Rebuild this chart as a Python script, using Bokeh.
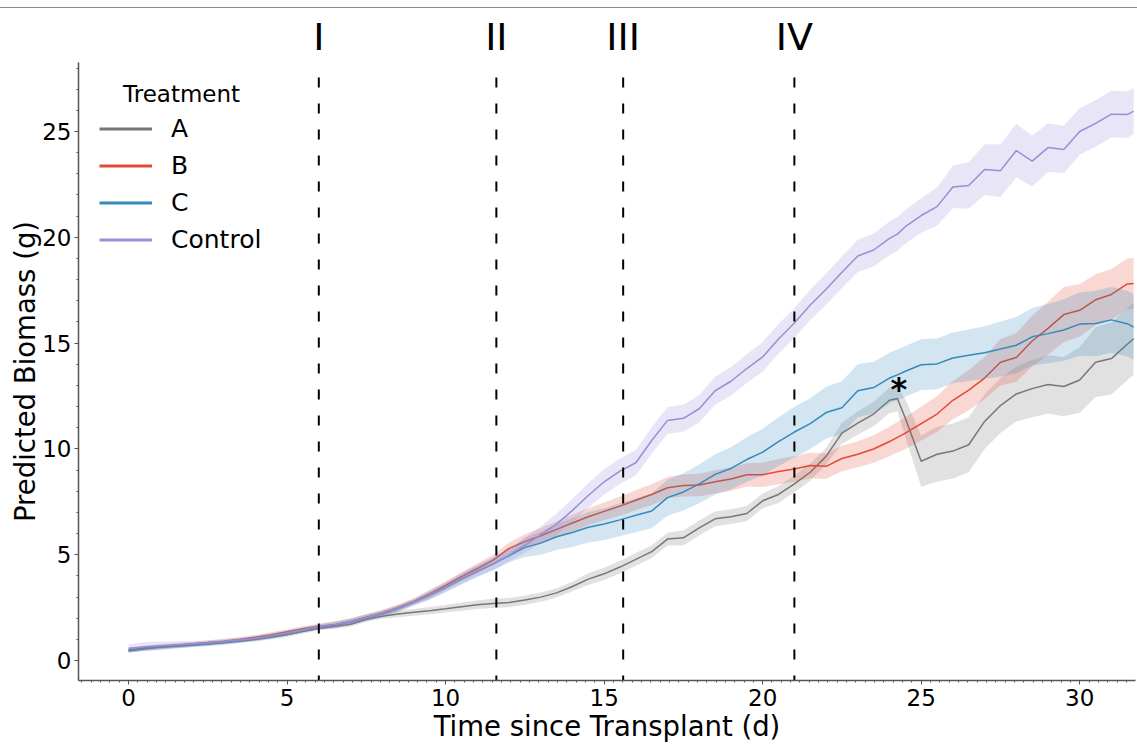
import numpy as np
from bokeh.plotting import figure
from bokeh.models import (Range1d, SingleIntervalTicker, FixedTicker, LinearAxis,
                          Label, Legend, LegendItem)
from bokeh.embed import file_html
from bokeh.resources import INLINE

# ---------------- data ----------------
t = [0, 0.5, 1, 1.5, 2, 2.5, 3, 3.5, 4, 4.5, 5, 5.5, 6, 6.5, 7, 7.5, 8, 8.5, 9, 9.5,
     10, 10.5, 11, 11.5, 12, 12.5, 13, 13.5, 14, 14.5, 15, 15.5, 16, 16.5, 17, 17.5,
     18, 18.5, 19, 19.5, 20, 20.5, 21, 21.5, 22, 22.5, 23, 23.5, 24, 24.25, 24.5, 25,
     25.5, 26, 26.5, 27, 27.5, 28, 28.5, 29, 29.5, 30, 30.5, 31, 31.5, 31.7]

a_mean = [0.47, 0.56, 0.63, 0.68, 0.73, 0.78, 0.84, 0.92, 1.0, 1.1, 1.22, 1.38, 1.52, 1.62,
          1.72, 1.95, 2.1, 2.2, 2.28, 2.36, 2.45, 2.55, 2.64, 2.7, 2.74, 2.86, 3.0, 3.2,
          3.5, 3.85, 4.1, 4.42, 4.78, 5.15, 5.74, 5.8, 6.27, 6.7, 6.8, 6.95, 7.55, 7.85,
          8.35, 8.9, 9.65, 10.75, 11.22, 11.65, 12.3, 12.38, 11.45, 9.42, 9.75, 9.9, 10.2,
          11.3, 12.05, 12.6, 12.85, 13.05, 12.95, 13.26, 14.1, 14.27, 14.95, 15.21]
a_err = [0.1, 0.1, 0.1, 0.1, 0.1, 0.1, 0.1, 0.1, 0.1, 0.1, 0.1, 0.1, 0.1, 0.12,
         0.12, 0.12, 0.12, 0.15, 0.16, 0.17, 0.18, 0.19, 0.2, 0.22, 0.22, 0.22, 0.22, 0.22,
         0.22, 0.28, 0.29, 0.3, 0.3, 0.3, 0.3, 0.35, 0.35, 0.35, 0.35, 0.35, 0.35, 0.4,
         0.4, 0.4, 0.4, 0.5, 0.55, 0.58, 0.6, 0.6, 0.9, 1.2, 1.3, 1.3, 1.3,
         1.3, 1.3, 1.3, 1.35, 1.38, 1.4, 1.55, 1.65, 1.7, 1.7, 1.7]

b_mean = [0.5, 0.6, 0.67, 0.73, 0.79, 0.85, 0.92, 1.0, 1.1, 1.22, 1.36, 1.5, 1.62, 1.7,
          1.85, 2.05, 2.25, 2.5, 2.8, 3.15, 3.55, 3.97, 4.35, 4.75, 5.3, 5.62, 5.9, 6.2,
          6.5, 6.8, 7.05, 7.3, 7.58, 7.85, 8.17, 8.27, 8.3, 8.45, 8.58, 8.78, 8.78, 8.93,
          9.05, 9.22, 9.18, 9.55, 9.75, 10.0, 10.35, 10.55, 10.75, 11.2, 11.65, 12.3, 12.78,
          13.35, 14.1, 14.32, 15.1, 15.7, 16.35, 16.55, 17.05, 17.3, 17.8, 17.82]
b_err = [0.1, 0.1, 0.1, 0.1, 0.1, 0.1, 0.1, 0.11, 0.11, 0.12, 0.12, 0.12, 0.12, 0.15,
         0.15, 0.15, 0.15, 0.15, 0.15, 0.2, 0.2, 0.22, 0.24, 0.25, 0.28, 0.35, 0.37, 0.38,
         0.4, 0.4, 0.42, 0.45, 0.47, 0.5, 0.5, 0.52, 0.53, 0.55, 0.55, 0.55, 0.58, 0.6,
         0.6, 0.6, 0.6, 0.6, 0.62, 0.65, 0.7, 0.72, 0.75, 0.8, 0.85, 0.9, 0.95,
         1.0, 1.1, 1.15, 1.2, 1.25, 1.3, 1.25, 1.2, 1.2, 1.2, 1.2]

c_mean = [0.48, 0.57, 0.64, 0.7, 0.75, 0.8, 0.87, 0.95, 1.04, 1.15, 1.3, 1.45, 1.58, 1.68,
          1.82, 2.02, 2.2, 2.45, 2.75, 3.08, 3.45, 3.85, 4.22, 4.57, 4.95, 5.35, 5.55, 5.85,
          6.05, 6.3, 6.45, 6.65, 6.87, 7.07, 7.7, 7.97, 8.35, 8.8, 9.08, 9.5, 9.85, 10.35,
          10.8, 11.2, 11.72, 11.95, 12.75, 12.9, 13.35, 13.5, 13.67, 13.98, 14.02, 14.3, 14.43,
          14.55, 14.72, 14.9, 15.3, 15.45, 15.62, 15.9, 15.93, 16.1, 15.92, 15.76]
c_err = [0.1, 0.1, 0.1, 0.1, 0.1, 0.1, 0.1, 0.1, 0.1, 0.1, 0.1, 0.1, 0.1, 0.15,
         0.15, 0.15, 0.15, 0.15, 0.15, 0.2, 0.22, 0.25, 0.27, 0.3, 0.3, 0.45, 0.55, 0.62,
         0.68, 0.72, 0.75, 0.78, 0.8, 0.82, 0.85, 0.88, 0.92, 0.95, 1.0, 1.05, 1.1, 1.15,
         1.2, 1.2, 1.22, 1.25, 1.25, 1.22, 1.2, 1.2, 1.2, 1.2, 1.2, 1.2, 1.22,
         1.25, 1.3, 1.33, 1.36, 1.4, 1.45, 1.5, 1.55, 1.55, 1.55, 1.55]

d_mean = [0.58, 0.66, 0.7, 0.74, 0.79, 0.84, 0.9, 0.97, 1.06, 1.17, 1.32, 1.46, 1.6, 1.7,
          1.84, 2.04, 2.22, 2.47, 2.77, 3.1, 3.47, 3.87, 4.24, 4.58, 4.98, 5.45, 5.95, 6.45,
          7.1, 7.8, 8.45, 8.95, 9.35, 10.4, 11.35, 11.45, 11.9, 12.75, 13.2, 13.8, 14.35, 15.2,
          15.95, 16.8, 17.55, 18.35, 19.12, 19.4, 19.95, 20.15, 20.5, 21.03, 21.45, 22.38, 22.45,
          23.2, 23.15, 24.1, 23.6, 24.24, 24.15, 25.0, 25.38, 25.82, 25.8, 25.96]
d_err = [0.18, 0.22, 0.2, 0.17, 0.13, 0.12, 0.12, 0.12, 0.12, 0.12, 0.12, 0.12, 0.12, 0.15,
         0.15, 0.15, 0.15, 0.15, 0.15, 0.2, 0.22, 0.25, 0.27, 0.3, 0.3, 0.35, 0.4, 0.5,
         0.55, 0.58, 0.6, 0.6, 0.6, 0.62, 0.63, 0.64, 0.65, 0.66, 0.67, 0.68, 0.7, 0.7,
         0.7, 0.72, 0.74, 0.75, 0.76, 0.78, 0.8, 0.8, 0.8, 0.82, 0.9, 1.0, 1.1,
         1.2, 1.25, 1.27, 1.2, 1.15, 1.12, 1.1, 1.1, 1.1, 1.1, 1.1]

treatments = ["A", "B", "C", "Control"]
colors = ["#777777", "#E24A33", "#348ABD", "#988ED5"]
means = [a_mean, b_mean, c_mean, d_mean]
errs = [a_err, b_err, c_err, d_err]

phase_x = [6, 11.6, 15.6, 21]
phase_labels = ["I", "II", "III", "IV"]
phase_top = [27.55, 27.55, 27.55, 27.55]
phase_bottom = [-2, -2, -2, -2]

star_x, star_y = 24.3, 12.82

FONT = "DejaVu Sans"

# ---------------- figure ----------------
p = figure(width=1137, height=744,
           x_range=Range1d(-1.58, 31.76), y_range=Range1d(-0.94, 28.26),
           output_backend="svg", toolbar_location=None,
           min_border_left=78, min_border_right=2,
           min_border_top=62, min_border_bottom=60)
p.border_fill_alpha = 0
p.styles = {"background": "linear-gradient(to bottom, #ffffff 0px, #ffffff 7px, "
                          "#8a8a8a 7px, #8a8a8a 8px, #ffffff 8px, #ffffff 100%)"}
p.outline_line_color = None
p.xgrid.visible = False
p.ygrid.visible = False
p.background_fill_color = "white"

for m, e, c in zip(means, errs, colors):
    m_arr = np.array(m)
    e_arr = np.array(e)
    p.varea(x=t, y1=m_arr - e_arr, y2=m_arr + e_arr, fill_color=c, fill_alpha=0.22)
    p.line(x=t, y=m, line_color=c, line_width=1.5)

p.segment(x0=phase_x, y0=phase_top, x1=phase_x, y1=phase_bottom,
          line_color="black", line_width=2, line_dash="10 16")

p.add_layout(Label(x=star_x, y=star_y, text="*", text_font=FONT,
                   text_font_size="32px", text_font_style="bold", text_color="black",
                   text_align="center", text_baseline="alphabetic"))

# main axes
p.xaxis.ticker = SingleIntervalTicker(interval=5, num_minor_ticks=17)
p.yaxis.ticker = SingleIntervalTicker(interval=5, num_minor_ticks=5)
for ax in (p.xaxis[0], p.yaxis[0]):
    ax.axis_line_color = "#555555"
    ax.axis_line_width = 1.5
    ax.major_tick_line_color = "#555555"
    ax.minor_tick_line_color = "#555555"
    ax.major_tick_out = 4
    ax.major_tick_in = 0
    ax.minor_tick_out = 2
    ax.minor_tick_in = 0
    ax.major_label_text_font = FONT
    ax.major_label_text_font_size = "23px"
    ax.major_label_text_color = "black"
    ax.axis_label_text_font = FONT
    ax.axis_label_text_font_size = "27.5px"
    ax.axis_label_text_font_style = "normal"
    ax.axis_label_text_color = "black"
p.xaxis.major_label_standoff = 4
p.yaxis.major_label_standoff = 3
p.xaxis.axis_label = "Time since Transplant (d)"
p.xaxis.axis_label_standoff = 1
p.yaxis.axis_label = "Predicted Biomass (g)"
p.yaxis.axis_label_standoff = -2

# phase numerals as an axis above the frame
phase_axis = LinearAxis(ticker=FixedTicker(ticks=phase_x),
                        major_label_overrides={x: l for x, l in zip(phase_x, phase_labels)},
                        axis_line_color=None, major_tick_line_color=None,
                        minor_tick_line_color=None, major_tick_out=0, major_tick_in=0,
                        minor_tick_out=0, minor_tick_in=0, major_label_standoff=4,
                        major_label_text_font=FONT, major_label_text_font_size="38px",
                        major_label_text_color="black")
p.add_layout(phase_axis, "above")

# legend
items = []
for name, c in zip(treatments, colors):
    r = p.line(x=[np.nan], y=[np.nan], line_color=c, line_width=3)
    items.append(LegendItem(label=name, renderers=[r]))
legend = Legend(items=items, location=(21, 425), glyph_width=53, glyph_height=31,
                label_height=31, spacing=6, padding=0, margin=0, label_standoff=19,
                label_text_font=FONT, label_text_font_size="25px", label_text_color="black",
                background_fill_alpha=0, border_line_alpha=0)
p.add_layout(legend)
p.add_layout(Label(x=1.67, y=26.76, text="Treatment", text_font=FONT, text_color="black",
                   text_font_size="23px", text_align="center", text_baseline="middle"))

open("out.html", "w").write(file_html(p, INLINE))
